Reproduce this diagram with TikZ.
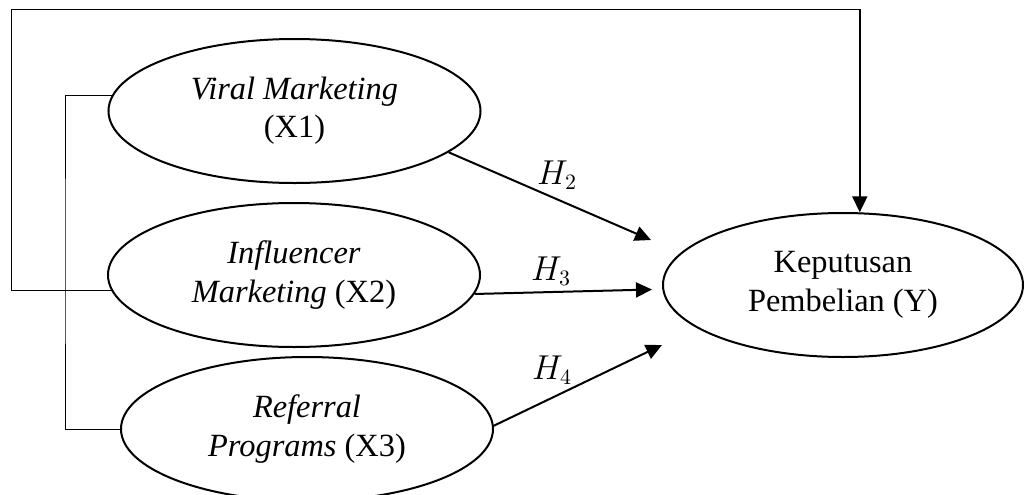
\documentclass[tikz,border=0pt]{standalone}
\usepackage{fontspec}
\setmainfont{Liberation Serif}
\usetikzlibrary{shapes.geometric,arrows.meta}
\tikzset{
  var/.style={draw, ellipse, line width=1pt, inner sep=0pt, align=center,
    minimum width=186pt, minimum height=72pt, font=\fontsize{16.2}{19.2}\selectfont},
  thinline/.style={line width=0.5pt},
  arr/.style={line width=1pt, -{Triangle[length=8pt,width=7.5pt]}},
  hlab/.style={font=\fontsize{16}{18}\selectfont, inner sep=0pt}
}
\begin{document}
\begin{tikzpicture}[x=0.5pt,y=-0.5pt]
\useasboundingbox (0,0) rectangle (1025,494);
\node[var] (X1) at (294.5,111) {\textit{Viral Marketing}\\(X1)};
\node[var] (X2) at (294,275) {\textit{Influencer}\\\textit{Marketing} (X2)};
\node[var] (X3) at (307,429) {\textit{Referral}\\\textit{Programs} (X3)};
\node[var, minimum width=180pt] (Y) at (843,285) {Keputusan\\Pembelian (Y)};
\coordinate (tl) at (11,9.3);
\coordinate (bx) at (65,260);
\coordinate (e2) at (651,240);
\coordinate (e3) at (652,289.5);
\coordinate (e4) at (662,345);
% outer bracket and top arrow
\draw[thinline] (X2.185.8) -| (tl) -- (tl -| Y.77.4);
\draw[arr] (tl -| Y.77.4) -- (Y.77.4);
% inner bracket
\draw[thinline] (X1.175) -| (bx) |- (X3.180);
% hypothesis arrows
\draw[arr] (X1.345) -- (e2);
\draw[arr] (X2.354.3) -- (e3);
\draw[arr] (X3.1.9) -- (e4);
\node[hlab] (h2) at (557,175) {$H_2$};
\node[hlab] (h3) at (551,271) {$H_3$};
\node[hlab] (h4) at (552,370) {$H_4$};
\end{tikzpicture}
\end{document}
